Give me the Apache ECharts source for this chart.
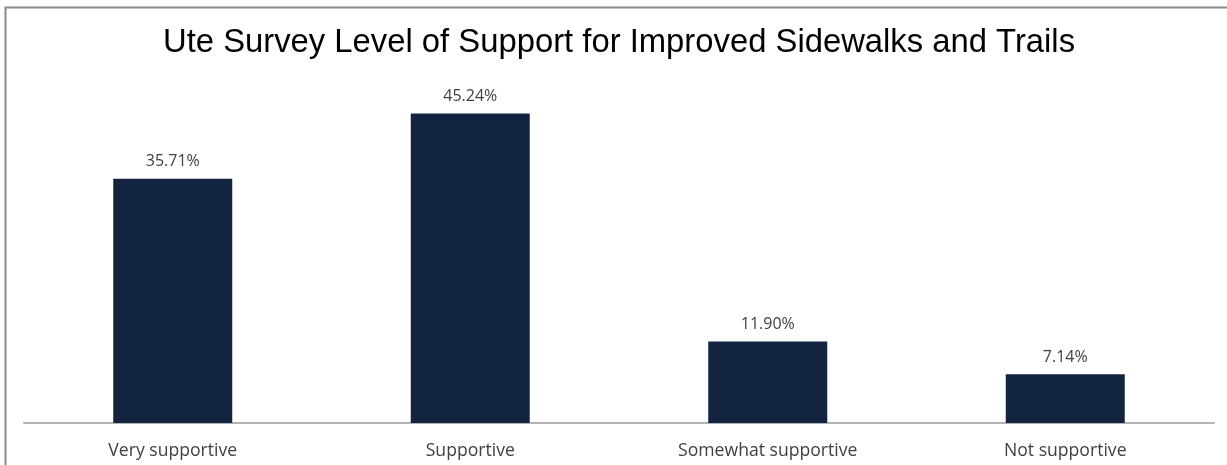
<!DOCTYPE html>
<html>
<head>
<meta charset="utf-8">
<script src="https://cdn.jsdelivr.net/npm/echarts@6/dist/echarts.min.js"></script>
<style>
  html, body { margin: 0; padding: 0; background: #ffffff; }
  #chart { width: 1227px; height: 465px; }
</style>
</head>
<body>
<div id="chart"></div>
<script>
// Survey response categories and share of respondents (%)
const categories = ['Very supportive', 'Supportive', 'Somewhat supportive', 'Not supportive'];
const supportShare = [35.71, 45.24, 11.90, 7.14];

const chart = echarts.init(document.getElementById('chart'), null, { renderer: 'canvas' });

chart.setOption({
  backgroundColor: '#ffffff',
  animation: false,
  title: {
    text: 'Ute Survey Level of Support for Improved Sidewalks and Trails',
    left: 158,
    top: 21,
    textStyle: {
      fontFamily: 'Liberation Sans, Arial, sans-serif',
      fontWeight: 'normal',
      fontSize: 32.8,
      color: '#000000'
    }
  },
  graphic: [{
    type: 'rect',
    shape: { x: 5.5, y: 7.5, width: 1260, height: 500 },
    style: { fill: 'none', stroke: '#8a8a8a', lineWidth: 2 },
    silent: true
  }],
  grid: { left: 24, right: 13, top: 81, bottom: 42 },
  xAxis: {
    type: 'category',
    data: categories,
    axisLine: { lineStyle: { color: '#b3b3b3', width: 2 } },
    axisTick: { show: false },
    axisLabel: {
      margin: 19,
      fontFamily: 'Open Sans, Noto Sans, sans-serif',
      fontSize: 17.6,
      color: '#404040'
    }
  },
  yAxis: {
    type: 'value',
    min: 0,
    max: 50,
    show: false,
    splitLine: { show: false }
  },
  series: [{
    type: 'bar',
    data: supportShare,
    barWidth: '40%',
    itemStyle: { color: '#12243f' },
    label: {
      show: true,
      position: 'top',
      distance: 9,
      formatter: p => p.value.toFixed(2) + '%',
      fontFamily: 'Open Sans, Noto Sans, sans-serif',
      fontSize: 16,
      color: '#404040'
    }
  }]
});
</script>
</body>
</html>
